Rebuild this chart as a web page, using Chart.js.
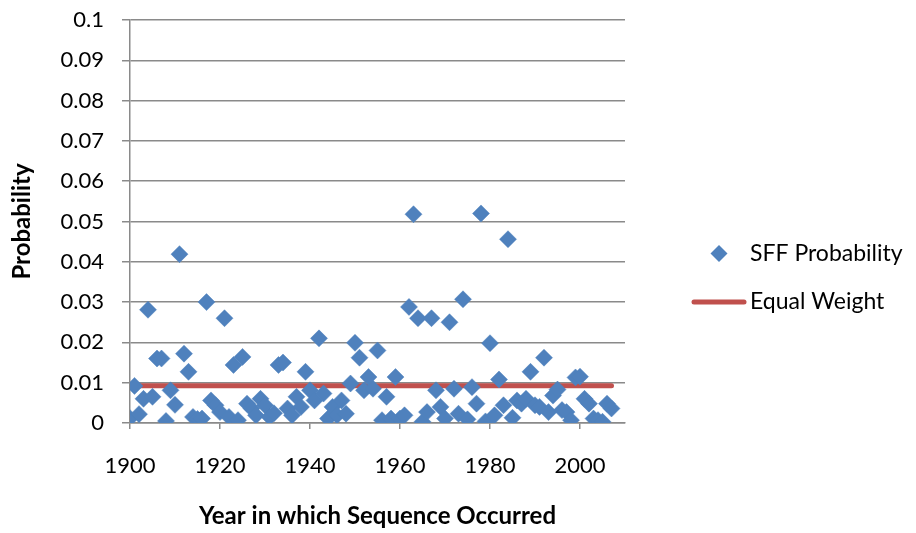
<!DOCTYPE html>
<html>
<head>
<meta charset="utf-8">
<script src="https://cdn.jsdelivr.net/npm/chart.js@4.4.1/dist/chart.umd.min.js"></script>
<style>
  html, body { margin: 0; padding: 0; background: #ffffff; }
  #wrap { width: 916px; height: 533px; position: relative; }
</style>
</head>
<body>
<div id="wrap"><canvas id="sffChart"></canvas></div>
<script>
// year of each sequence and its SFF probability
var years = [
    1900, 1901, 1902, 1903, 1904, 1905, 1906, 1907, 1908, 1909,
    1910, 1911, 1912, 1913, 1914, 1915, 1916, 1917, 1918, 1919,
    1920, 1921, 1922, 1923, 1924, 1925, 1926, 1927, 1928, 1929,
    1930, 1931, 1932, 1933, 1934, 1935, 1936, 1937, 1938, 1939,
    1940, 1941, 1942, 1943, 1944, 1945, 1946, 1947, 1948, 1949,
    1950, 1951, 1952, 1953, 1954, 1955, 1956, 1957, 1958, 1959,
    1960, 1961, 1962, 1963, 1964, 1965, 1966, 1967, 1968, 1969,
    1970, 1971, 1972, 1973, 1974, 1975, 1976, 1977, 1978, 1979,
    1980, 1981, 1982, 1983, 1984, 1985, 1986, 1987, 1988, 1989,
    1990, 1991, 1992, 1993, 1994, 1995, 1996, 1997, 1998, 1999,
    2000, 2001, 2002, 2003, 2004, 2005, 2006, 2007
];
var sffProbability = [
    0.0012, 0.0092, 0.0022, 0.0060, 0.0281, 0.0065, 0.0160, 0.0160, 0.0005, 0.0081,
    0.0045, 0.0419, 0.0172, 0.0127, 0.0015, 0.0010, 0.0011, 0.0300, 0.0056, 0.0044,
    0.0027, 0.0260, 0.0015, 0.0144, 0.0007, 0.0164, 0.0048, 0.0036, 0.0019, 0.0060,
    0.0044, 0.0015, 0.0024, 0.0144, 0.0150, 0.0036, 0.0019, 0.0065, 0.0040, 0.0127,
    0.0081, 0.0056, 0.0210, 0.0073, 0.0011, 0.0040, 0.0019, 0.0056, 0.0023, 0.0098,
    0.0199, 0.0162, 0.0081, 0.0114, 0.0085, 0.0180, 0.0007, 0.0065, 0.0011, 0.0114,
    0.0011, 0.0019, 0.0288, 0.0518, 0.0260, 0.0003, 0.0027, 0.0260, 0.0081, 0.0040,
    0.0011, 0.0250, 0.0085, 0.0023, 0.0307, 0.0009, 0.0089, 0.0048, 0.0520, 0.0004,
    0.0198, 0.0019, 0.0108, 0.0044, 0.0456, 0.0013, 0.0056, 0.0048, 0.0060, 0.0127,
    0.0044, 0.0040, 0.0162, 0.0027, 0.0068, 0.0083, 0.0032, 0.0027, 0.0007, 0.0113,
    0.0115, 0.0060, 0.0048, 0.0011, 0.0007, 0.0003, 0.0048, 0.0036
];
// equal weight = 1 / number of years
var equalWeightYears = [1900, 2007];
var equalWeightValue = [0.00926, 0.00926];

var xTicks = [1900, 1920, 1940, 1960, 1980, 2000];
var yTicks = [0, 0.01, 0.02, 0.03, 0.04, 0.05, 0.06, 0.07, 0.08, 0.09, 0.1];
var yTickLabels = ['0', '0.01', '0.02', '0.03', '0.04', '0.05', '0.06', '0.07', '0.08', '0.09', '0.1'];

var blue = '#4F81BD';
var red = '#C0504D';
var gridGray = '#8a8a8a';
var fontFamily = 'Lato, "Open Sans", sans-serif';

var sffPoints = years.map(function (y, i) { return { x: y, y: sffProbability[i] }; });
var equalPoints = equalWeightYears.map(function (y, i) { return { x: y, y: equalWeightValue[i] }; });

// legend on the right side, drawn by hand
var sideLegend = {
    id: 'sideLegend',
    afterDraw: function (chart) {
        var ctx = chart.ctx;
        ctx.save();
        ctx.fillStyle = blue;
        ctx.beginPath();
        ctx.moveTo(719, 245);
        ctx.lineTo(727.5, 253.5);
        ctx.lineTo(719, 262);
        ctx.lineTo(710.5, 253.5);
        ctx.closePath();
        ctx.fill();

        ctx.strokeStyle = red;
        ctx.lineWidth = 5;
        ctx.lineCap = 'round';
        ctx.beginPath();
        ctx.moveTo(694, 302);
        ctx.lineTo(744, 302);
        ctx.stroke();

        ctx.fillStyle = '#000000';
        ctx.font = '23px ' + fontFamily;
        ctx.textBaseline = 'middle';
        ctx.textAlign = 'left';
        ctx.fillText('SFF Probability', 750, 254);
        ctx.fillText('Equal Weight', 750, 302);
        ctx.restore();
    }
};

var ctx = document.getElementById('sffChart').getContext('2d');
var sffChart = new Chart(ctx, {
    type: 'scatter',
    data: {
        datasets: [
            {
                label: 'SFF Probability',
                data: sffPoints,
                pointStyle: 'rectRot',
                pointRadius: 8.5,
                pointBackgroundColor: blue,
                pointBorderColor: blue,
                pointBorderWidth: 0.5,
                showLine: false,
                order: 1
            },
            {
                label: 'Equal Weight',
                type: 'line',
                data: equalPoints,
                borderColor: red,
                borderWidth: 5,
                borderCapStyle: 'round',
                pointRadius: 0,
                fill: false,
                order: 2
            }
        ]
    },
    options: {
        responsive: true,
        maintainAspectRatio: false,
        animation: false,
        layout: {
            padding: { top: 20, right: 291, left: 0, bottom: 0 }
        },
        plugins: {
            legend: { display: false },
            tooltip: { enabled: false }
        },
        scales: {
            x: {
                type: 'linear',
                min: 1900,
                max: 2010,
                afterBuildTicks: function (scale) {
                    scale.ticks = xTicks.map(function (v) { return { value: v }; });
                },
                afterFit: function (scale) {
                    scale.height = 110;
                    scale.paddingTop = 0;
                },
                ticks: {
                    color: '#000000',
                    font: { family: fontFamily, size: 22 },
                    padding: 24,
                    maxRotation: 0,
                    callback: function (v) { return String(v); }
                },
                grid: {
                    drawOnChartArea: false,
                    drawTicks: true,
                    tickLength: 6,
                    color: gridGray,
                    lineWidth: 1.5
                },
                border: { color: gridGray, width: 1.5 },
                title: {
                    display: true,
                    text: 'Year in which Sequence Occurred',
                    color: '#000000',
                    font: { family: fontFamily, size: 24, weight: 'bold' },
                    padding: { top: 0, bottom: 2 }
                }
            },
            y: {
                min: 0,
                max: 0.1,
                afterBuildTicks: function (scale) {
                    scale.ticks = yTicks.map(function (v) { return { value: v }; });
                },
                afterFit: function (scale) {
                    scale.width = 130;
                    scale.paddingTop = 0;
                    scale.paddingBottom = 0;
                },
                ticks: {
                    color: '#000000',
                    font: { family: fontFamily, size: 22 },
                    padding: 18,
                    callback: function (v, i) { return yTickLabels[i]; }
                },
                grid: {
                    color: gridGray,
                    lineWidth: 1.5,
                    tickLength: 8
                },
                border: { color: gridGray, width: 1.5 },
                title: {
                    display: true,
                    text: 'Probability',
                    color: '#000000',
                    font: { family: fontFamily, size: 24, weight: 'bold' },
                    padding: { top: 8, bottom: 0 }
                }
            }
        }
    },
    plugins: [sideLegend]
});
</script>
</body>
</html>
